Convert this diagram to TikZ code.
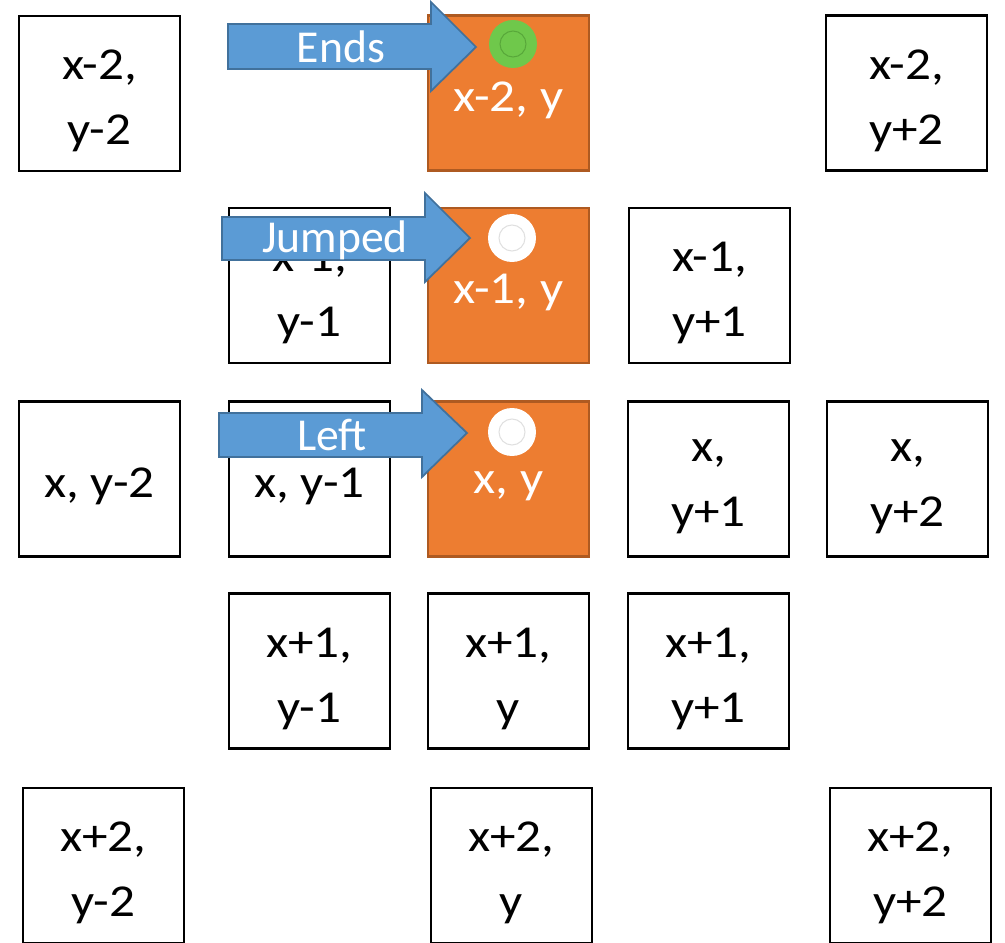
\documentclass[tikz,border=0pt]{standalone}
\usepackage{fontspec}
\setmainfont{Carlito}
\newfontfamily\cellfont{Carlito}[FakeStretch=1.12]
\usepackage{xcolor}
\definecolor{hotfill}{HTML}{ED7D31}
\definecolor{hotline}{HTML}{AE5A21}
\definecolor{arrowfill}{HTML}{5B9BD5}
\definecolor{arrowline}{HTML}{41719C}
\definecolor{dotgreen}{HTML}{6FC84B}
\definecolor{dotring}{HTML}{58A83A}
\usetikzlibrary{positioning}

\begin{document}
\begin{tikzpicture}[x=0.02cm, y=-0.02cm,
    celltext/.style={align=center, yshift=-0.15cm, font=\cellfont\fontsize{26}{37}\selectfont},
    cell/.style={draw, line width=1.2pt, minimum width=3.22cm, minimum height=3.1cm, label={[celltext]center:{#1}}},
    hot/.style={draw=hotline, fill=hotfill, line width=1.2pt, minimum width=3.22cm, minimum height=3.1cm},
    hottext/.style={text=white, font=\cellfont\fontsize{26}{37}\selectfont},
    dot/.style={circle, fill=white, minimum size=0.96cm, inner sep=0pt},
    ring/.style={circle, draw=black!12, line width=0.6pt, minimum size=0.52cm, inner sep=0pt},
    jump/.style={fill=arrowfill, draw=arrowline, line width=1pt, line join=miter},
    jumptext/.style={text=white, font=\fontsize{26}{30}\selectfont}]
    \useasboundingbox (0,0) rectangle (1005,943);

    % row x-2
    \node[cell={x-2,\\y-2}] (xm2ym2) at (99.5,93.5) {};
    \node[hot] (xm2y) at (508.5,93) {};
    \node[cell={x-2,\\y+2}] (xm2yp2) at (906.5,93) {};

    % row x-1
    \node[cell={x-1,\\y-1}] (xm1ym1) at (309.5,285.5) {};
    \node[hot] (xm1y) at (508.5,285.5) {};
    \node[cell={x-1,\\y+1}] (xm1yp1) at (709.5,285.5) {};

    % row x
    \node[cell={x, y-2}] (xym2) at (99.5,479) {};
    \node[cell={x, y-1}] (xym1) at (309.5,479) {};
    \node[hot] (xy) at (508.5,479) {};
    \node[cell={x,\\y+1}] (xyp1) at (708.5,479) {};
    \node[cell={x,\\y+2}] (xyp2) at (907.5,479) {};

    % row x+1
    \node[cell={x+1,\\y-1}] (xp1ym1) at (309.5,671) {};
    \node[cell={x+1,\\y}] (xp1y) at (508.5,671) {};
    \node[cell={x+1,\\y+1}] (xp1yp1) at (708.5,671) {};

    % row x+2
    \node[cell={x+2,\\y-2}] (xp2ym2) at (103.5,865.5) {};
    \node[cell={x+2,\\y}] (xp2y) at (511.5,865.5) {};
    \node[cell={x+2,\\y+2}] (xp2yp2) at (910.5,865.5) {};

    % labels of the visited cells
    \node[hottext] (xm2ytxt) at (508.5,100) {x-2, y};
    \node[hottext] (xm1ytxt) at (508.5,292) {x-1, y};
    \node[hottext] (xytxt) at (508.5,486) {x, y};

    % pieces
    \node[dot, fill=dotgreen] (endsdot) at (513,44) {};
    \node[ring, draw=dotring] at (endsdot) {};
    \node[dot] (jumpdot) at (512,238) {};
    \node[ring] at (jumpdot) {};
    \node[dot] (leftdot) at (512,432) {};
    \node[ring] at (leftdot) {};

    % moves
    \draw[jump] (228,24) -- (431,24) -- (431,2) -- (476,47) -- (431,91) -- (431,69) -- (228,69) -- cycle;
    \node[jumptext] (endslbl) at (341,47) {Ends};
    \draw[jump] (222,217) -- (425,217) -- (425,193) -- (470,238) -- (425,282) -- (425,260) -- (222,260) -- cycle;
    \node[jumptext] (jumplbl) at (335,240) {Jumped};
    \draw[jump] (219,413) -- (422,413) -- (422,390) -- (467,433) -- (422,477) -- (422,457) -- (219,457) -- cycle;
    \node[jumptext] (leftlbl) at (332,435) {Left};
\end{tikzpicture}
\end{document}
